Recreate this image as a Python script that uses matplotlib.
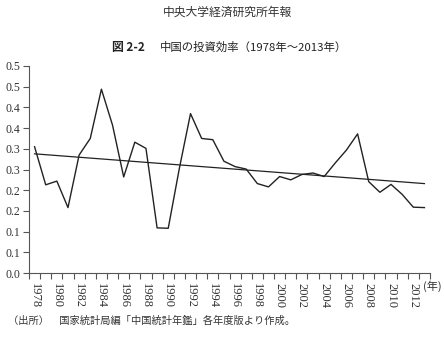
import matplotlib
matplotlib.use("Agg")
import matplotlib.pyplot as plt
import numpy as np

years = list(range(1978, 2014))
efficiency = [0.305, 0.213, 0.222, 0.158, 0.285, 0.325, 0.444, 0.357, 0.232, 0.316,
              0.301, 0.109, 0.108, 0.253, 0.385, 0.325, 0.322, 0.270, 0.257, 0.251,
              0.216, 0.208, 0.233, 0.225, 0.238, 0.2415, 0.233, 0.266, 0.297, 0.336,
              0.2206, 0.195, 0.214, 0.190, 0.159, 0.158]
yticks = [0.0, 0.05, 0.1, 0.15, 0.2, 0.25, 0.3, 0.35, 0.4, 0.45, 0.5]
ytick_labels = ['0.0', '0.1', '0.1', '0.2', '0.2', '0.3', '0.3', '0.4', '0.4', '0.5', '0.5']
xlabel_years = [str(y) for y in range(1978, 2013, 2)]

cjk = ['Noto Sans CJK JP', 'DejaVu Sans']
serif = ['Liberation Serif', 'DejaVu Serif']

fig = plt.figure(figsize=(4.44, 3.39), dpi=100)
ax = fig.add_axes([29/444, 1-273/339, (430-29)/444, (273-66)/339])

x = np.arange(len(years))
ax.plot(x, efficiency, color='#222222', lw=1.0)
coef = np.polyfit(x, efficiency, 1)
ax.plot([x[0], x[-1]], np.polyval(coef, [x[0], x[-1]]), color='#222222', lw=0.9)

ax.set_xlim(-0.5, len(years) - 0.5)
ax.set_ylim(0, 0.5)
ax.set_yticks(yticks)
ax.set_yticklabels(ytick_labels, family=serif, fontsize=8.5, color='#333333')
ax.set_xticks(np.arange(-0.5, len(years), 1.0))
ax.set_xticklabels([])
ax.set_xticks([years.index(int(y)) for y in xlabel_years], minor=True)
ax.set_xticklabels(xlabel_years, minor=True, rotation=-90, family=serif, fontsize=9, color='#333333')
ax.tick_params(axis='x', which='major', length=4, width=0.8, direction='out', color='#555555')
ax.tick_params(axis='x', which='minor', length=0, pad=7)
ax.tick_params(axis='y', length=4, width=0.8, direction='out', color='#555555', pad=2)
for s in ['top', 'right']:
    ax.spines[s].set_visible(False)
for s in ['left', 'bottom']:
    ax.spines[s].set_color('#555555')
    ax.spines[s].set_linewidth(0.8)

fig.text(0.5 + 5/444, 1-12/339, '中央大学経済研究所年報', ha='center', va='center', family=cjk, fontsize=8.5, color='#333333')
fig.text(112/444, 1-47/339, '図 2-2', ha='left', va='center', family=cjk, fontsize=8.5, color='#222222', weight='bold')
fig.text(160/444, 1-47/339, '中国の投資効率（1978年～2013年）', ha='left', va='center', family=cjk, fontsize=8.2, color='#222222')
fig.text(432/444, 1-286/339, '(年)', ha='center', va='center', family=cjk, fontsize=8, color='#333333')
fig.text(8/444, 1-321/339, '（出所）　国家統計局編「中国統計年鑑」各年度版より作成。', ha='left', va='center', family=cjk, fontsize=7.4, color='#333333')

fig.savefig('out.png', dpi=100)
